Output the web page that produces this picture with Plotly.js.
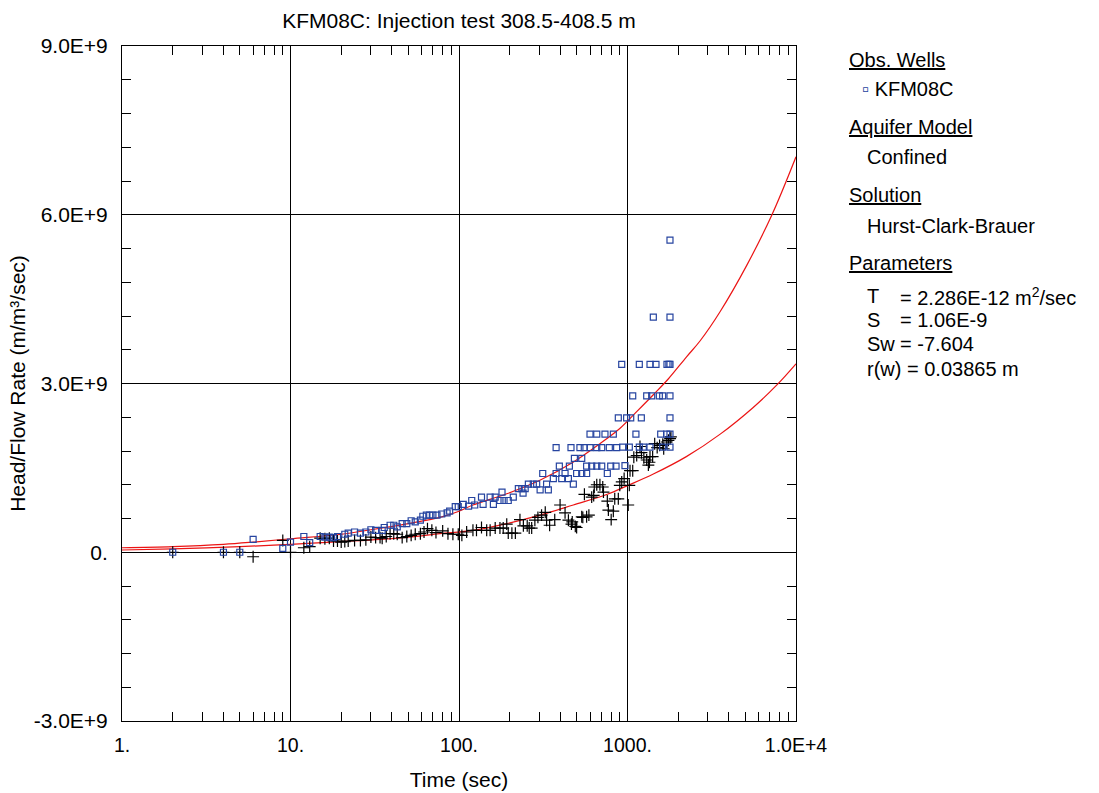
<!DOCTYPE html>
<html>
<head>
<meta charset="utf-8">
<script src="https://cdn.plot.ly/plotly-3.0.1.min.js"></script>
<style>html,body{margin:0;padding:0;background:#fff;}#chart{width:1099px;height:793px;}</style>
</head>
<body>
<div id="chart"></div>
<script>
// Data (values in units of 1E+9 m/m3/sec)
const obsTime = [2,4,5,6,9,10,12,13,15,16,
  17,18,19,21,22,24,26,28,30,32,
  35,36,39,41,43,46,49,52,55,59,
  61,64,67,70,74,79,85,88,95,99,
  106,114,119,124,136,139,153,160,164,175,
  180,185,196,210,225,236,240,247,258,276,
  289,303,314,331,339,363,377,377,394,407,
  426,446,452,462,477,484,499,522,535,535,
  554,572,572,599,599,613,657,657,657,703,
  703,735,759,780,795,824,855,862,882,924,
  936,966,988,1025,1045,1074,1122,1175,1175,1208,
  1241,1300,1360,1360,1392,1423,1476,1545,1574,1617,
  1617,1709,1715,1760,1787,1787,1787,1787,1787,1787,
  1787];
const obsValue = [0,0,0,0.23,0.07,0.18,0.28,0.17,0.28,0.27,
  0.27,0.26,0.28,0.32,0.34,0.36,0.34,0.36,0.40,0.39,
  0.39,0.44,0.48,0.48,0.45,0.51,0.51,0.56,0.54,0.57,
  0.64,0.66,0.66,0.66,0.66,0.68,0.70,0.73,0.81,0.81,
  0.85,0.82,0.92,0.84,0.98,0.85,0.98,0.85,0.98,0.92,
  1.07,0.92,0.92,0.98,1.13,1.13,1.05,1.13,1.21,1.21,
  1.21,1.11,1.40,1.21,1.11,1.31,1.40,1.86,1.53,1.31,
  1.40,1.31,1.53,1.86,1.21,1.67,1.40,1.86,1.67,1.40,
  1.86,1.40,1.53,2.10,1.86,1.53,1.53,2.10,1.86,1.53,
  1.86,2.10,1.40,1.86,1.53,2.10,1.53,1.86,2.39,3.34,
  1.87,1.54,2.39,1.87,2.39,2.78,2.10,1.87,3.34,2.39,
  1.87,2.78,3.34,1.87,2.78,4.18,3.34,2.78,2.10,2.78,
  1.87,2.10,3.34,3.34,5.55,4.18,3.34,2.78,2.39,2.10,
  1.87];

const derivTime = [2,4,5,6,9,10,12,13,15,16,
  17,18,19,20,21,22,24,26,28,30,
  32,34,35,37,39,41,43,46,49,52,
  55,59,62,65,69,73,80,86,92,99,
  104,111,121,127,136,146,153,164,175,183,
  192,196,206,216,230,241,254,261,270,282,
  294,309,325,331,345,370,398,426,446,465,
  470,490,499,535,543,555,572,590,613,630,
  635,657,686,713,720,759,770,800,824,840,
  882,900,924,955,1010,1025,1035,1074,1090,1134,
  1186,1210,1250,1300,1330,1350,1360,1410,1450,1500,
  1550,1620,1640,1710,1750,1790,1810];
const derivValue = [0,0,0,-0.08,0.21,0,0.08,0.10,0.25,0.24,
  0.25,0.20,0.20,0.18,0.19,0.20,0.21,0.21,0.22,0.27,
  0.26,0.26,0.25,0.28,0.33,0.33,0.32,0.26,0.28,0.30,
  0.32,0.33,0.36,0.42,0.39,0.35,0.38,0.33,0.32,0.32,
  0.30,0.36,0.39,0.39,0.44,0.39,0.39,0.43,0.43,0.43,
  0.50,0.34,0.34,0.34,0.58,0.47,0.47,0.43,0.43,0.57,
  0.62,0.66,0.71,0.57,0.48,0.58,0.84,0.70,0.57,0.50,
  0.54,0.46,0.44,0.63,0.62,1.03,0.63,0.66,0.98,1.01,
  1.16,1.20,1.20,1.16,1.07,0.91,0.75,0.58,0.73,0.95,
  0.95,1.19,1.25,1.31,0.84,1.19,1.45,1.45,1.69,1.72,
  1.88,1.77,1.68,1.64,1.55,1.60,1.70,1.70,1.93,1.86,
  1.90,1.92,1.84,1.96,1.99,2.02,2.05];

const fitTime = [1,2,4,6,10,20,30,50,77,100,121,192,302,475,686,900,1134,1423,1745,2235,2700,3550,5100,7200,10000];
const fitValue = [0.08,0.10,0.14,0.18,0.24,0.32,0.40,0.51,0.62,0.73,0.84,1.04,1.28,1.60,1.93,2.20,2.50,2.80,3.08,3.47,3.76,4.28,5.10,6.00,7.03];

const fitDerivTime = [1,2,5,10,20,34,50,77,121,192,303,477,759,993,1423,2235,3550,5550,7730,10000];
const fitDerivValue = [0.04,0.06,0.10,0.14,0.19,0.23,0.27,0.33,0.39,0.51,0.66,0.84,1.03,1.18,1.39,1.70,2.10,2.57,2.98,3.35];

const xTickVals = [1,10,100,1000,10000];
const xTickText = ['1.','10.','100.','1000.','1.0E+4'];
const yTickVals = [-3e9,0,3e9,6e9,9e9];
const yTickText = ['-3.0E+9','0.','3.0E+9','6.0E+9','9.0E+9'];

const SCALE = 1e9;
const sc = a => a.map(v => v * SCALE);

const xMinor = [];
for (let d = 1; d <= 1000; d *= 10) for (let k = 2; k <= 9; k++) xMinor.push(k * d);
const yMinor = [];
for (let i = -5; i <= 15; i++) { if (i % 5 !== 0) yMinor.push(i * 0.6e9); }

const FONT = 'Liberation Sans, Arial, Helvetica, sans-serif';
const BLUE = 'rgb(38,68,160)';

const traces = [
  {x: fitTime, y: sc(fitValue), mode: 'lines', line: {color: 'rgb(235,20,20)', width: 1.2, shape: 'spline', smoothing: 1}, hoverinfo: 'skip'},
  {x: fitDerivTime, y: sc(fitDerivValue), mode: 'lines', line: {color: 'rgb(235,20,20)', width: 1.2, shape: 'spline', smoothing: 1}, hoverinfo: 'skip'},
  {x: derivTime, y: sc(derivValue), mode: 'markers', marker: {symbol: 'cross-thin-open', size: 8.5, color: '#000', line: {color: '#000', width: 1.2}}},
  {x: obsTime, y: sc(obsValue), mode: 'markers', marker: {symbol: 'square-open', size: 6, color: BLUE, line: {color: BLUE, width: 1.2}}}
];

const px2x = px => (px - 122) / 674;
const py2y = py => (721 - py) / 675;
const ann = (text, px, py, extra) => Object.assign({
  text: text, xref: 'paper', yref: 'paper', x: px2x(px), y: py2y(py),
  xanchor: 'left', yanchor: 'middle', showarrow: false,
  font: {family: FONT, size: 20, color: '#000'}
}, extra || {});

const annotations = [
  ann('<u>Obs. Wells</u>', 847, 60),
  ann('<span style="color:' + BLUE + '">▫</span> KFM08C', 860, 89),
  ann('<u>Aquifer Model</u>', 847, 127),
  ann('Confined', 865, 157),
  ann('<u>Solution</u>', 847, 195),
  ann('Hurst-Clark-Brauer', 865, 226),
  ann('<u>Parameters</u>', 847, 263),
  ann('T', 865, 296), ann('= 2.286E-12 m<sup>2</sup>/sec', 898, 296),
  ann('S', 865, 320), ann('= 1.06E-9', 898, 320),
  ann('Sw', 865, 344), ann('= -7.604', 898, 344),
  ann('r(w) = 0.03865 m', 865, 369)
];

const layout = {
  width: 1099, height: 793,
  margin: {l: 122, r: 303, t: 46, b: 72, pad: 0},
  paper_bgcolor: '#fff', plot_bgcolor: '#fff',
  font: {family: FONT, size: 20, color: '#000'},
  showlegend: false,
  title: {text: 'KFM08C: Injection test 308.5-408.5 m', font: {family: FONT, size: 21, color: '#000'},
          xref: 'paper', x: 0.5, xanchor: 'center', yref: 'container', y: 1 - 21/793, yanchor: 'middle'},
  xaxis: {
    type: 'log', range: [0, 4], autorange: false,
    tickmode: 'array', tickvals: xTickVals, ticktext: xTickText,
    ticks: 'inside', ticklen: 16, tickwidth: 1, tickcolor: '#000',
    showgrid: true, gridcolor: '#000', gridwidth: 1,
    showline: true, linecolor: '#000', linewidth: 1, mirror: 'allticks',
    zeroline: false, ticklabelstandoff: 7,
    tickfont: {family: FONT, size: 19.5, color: '#000'},
    title: {text: 'Time (sec)', font: {family: FONT, size: 21, color: '#000'}, standoff: 16},
    minor: {tickmode: 'array', tickvals: xMinor, ticks: 'inside', ticklen: 9, tickwidth: 1, tickcolor: '#000', showgrid: false}
  },
  yaxis: {
    range: [-3e9, 9e9], autorange: false,
    tickmode: 'array', tickvals: yTickVals, ticktext: yTickText,
    ticks: 'inside', ticklen: 9, tickwidth: 1, tickcolor: '#000',
    showgrid: true, gridcolor: '#000', gridwidth: 1,
    showline: true, linecolor: '#000', linewidth: 1, mirror: 'allticks',
    zeroline: false, ticklabelstandoff: 9,
    tickfont: {family: FONT, size: 21, color: '#000'},
    title: {text: 'Head/Flow Rate (m/m³/sec)', font: {family: FONT, size: 21, color: '#000'}, standoff: 2},
    minor: {tickmode: 'array', tickvals: yMinor, ticks: 'inside', ticklen: 9, tickwidth: 1, tickcolor: '#000', showgrid: false}
  },
  annotations: annotations
};

Plotly.newPlot('chart', traces, layout, {staticPlot: true, displayModeBar: false});
</script>
</body>
</html>
